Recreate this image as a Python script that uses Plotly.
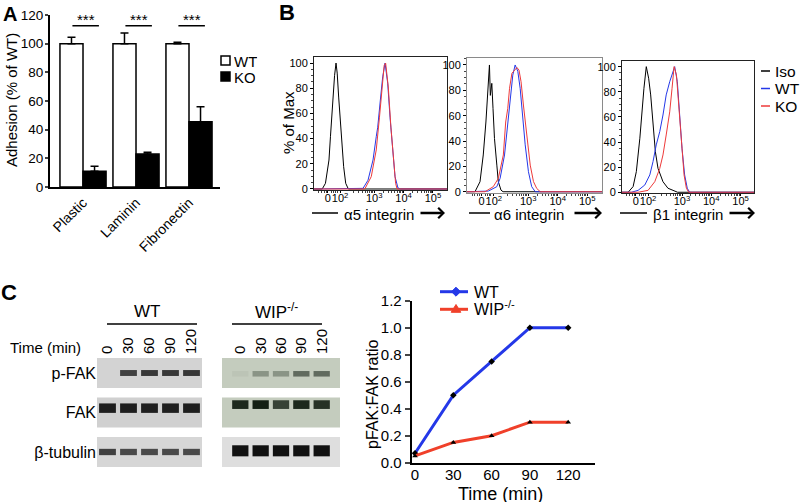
import math
import plotly.graph_objects as go

W, H = 800, 503
def xp(x): return x / W
def yp(y): return 1 - y / H

FONT = "Liberation Sans, Arial, Helvetica, sans-serif"

# ---------------- Panel A data ----------------
substrates = ["Plastic", "Laminin", "Fibronectin"]
adh_wt = [100, 100, 100]
adh_wt_err = [4.5, 7.5, 1.0]
adh_ko = [11, 23, 45.5]
adh_ko_err = [3.5, 1.2, 10.5]
sig_text = ["***", "***", "***"]
sig_level = 112.5

# ---------------- Panel B data (x in display decades, y in % of max) ----------------
hist_titles = ["α5 integrin", "α6 integrin", "β1 integrin"]
b_tickvals = [1.42, 1.84, 3, 4, 5]
b_ticktext = ["0", "10<sup>2</sup>", "10<sup>3</sup>", "10<sup>4</sup>", "10<sup>5</sup>"]

iso1_x = [0.95, 1.23, 1.34, 1.46, 1.51, 1.59, 1.65, 1.70, 1.74, 1.79, 1.88, 1.96, 2.03, 2.12, 5.48]
iso1_y = [0, 0, 4.5, 23, 41.5, 70.6, 90, 100, 92, 73, 39, 17.7, 4.5, 0, 0]
wt1_x = [0.95, 2.55, 2.62, 2.79, 2.96, 3.07, 3.12, 3.21, 3.29, 3.37, 3.46, 3.54, 3.62, 3.71, 3.81, 3.90, 5.48]
wt1_y = [0, 0, 0.5, 7, 23, 41.5, 49, 70.6, 89, 100, 84, 57, 31, 9.8, 0.8, 0, 0]
ko1_x = [0.95, 2.68, 2.90, 3.07, 3.18, 3.27, 3.34, 3.39, 3.48, 3.57, 3.66, 3.73, 3.78, 5.48]
ko1_y = [0, 0, 9.8, 31, 57, 81, 98, 100, 81, 49, 20, 4.5, 0, 0]

iso2_x = [0.93, 1.20, 1.37, 1.48, 1.57, 1.63, 1.69, 1.72, 1.77, 1.81, 1.86, 1.94, 1.99, 2.08, 2.15, 5.50]
iso2_y = [0, 0, 7.9, 29, 55, 81.6, 100, 76, 85.5, 65.8, 42, 21, 8, 1.3, 0, 0]
wt2_x = [0.93, 1.65, 1.94, 2.05, 2.20, 2.31, 2.39, 2.48, 2.56, 2.65, 2.73, 2.81, 2.90, 3.01, 3.12, 3.24, 5.50]
wt2_y = [0, 0.5, 4, 10.5, 29, 55, 76, 92, 100, 95, 81.6, 60.5, 37, 15.8, 4, 0, 0]
ko2_x = [0.93, 1.54, 1.82, 1.99, 2.16, 2.24, 2.31, 2.37, 2.45, 2.54, 2.62, 2.69, 2.76, 2.84, 2.96, 3.07, 3.18, 3.29, 3.41, 5.50]
ko2_y = [0, 0, 4, 10.5, 29, 55, 65.8, 81.6, 93.4, 96, 98, 96, 86.8, 68.4, 42, 21, 8, 2.6, 0, 0]

iso3_x = [0.95, 1.16, 1.33, 1.44, 1.56, 1.63, 1.70, 1.78, 1.86, 1.93, 2.01, 2.09, 2.18, 2.35, 2.52, 2.75, 2.85, 5.46]
iso3_y = [0, 0, 4.5, 16.4, 43, 64, 82.8, 100, 90.8, 77.5, 51, 32.3, 19, 8.4, 3.2, 1, 0, 0]
wt3_x = [0.95, 1.27, 1.50, 1.73, 1.90, 2.01, 2.12, 2.24, 2.35, 2.46, 2.58, 2.67, 2.75, 2.84, 2.92, 3.00, 3.09, 3.18, 3.26, 5.46]
wt3_y = [0, 0, 1.5, 5.8, 13.8, 24.4, 37.7, 48.3, 61.5, 77.5, 88, 94.7, 100, 88, 61.5, 35, 13.8, 3.2, 0, 0]
ko3_x = [0.95, 1.50, 1.84, 2.07, 2.24, 2.35, 2.46, 2.58, 2.66, 2.73, 2.81, 2.89, 2.98, 3.07, 3.15, 3.23, 5.46]
ko3_y = [0, 0, 1.5, 8.4, 19, 29.7, 45.6, 64, 82.8, 100, 93.4, 69.5, 37.7, 13.8, 3.2, 0, 0]

# ---------------- Panel C data ----------------
time_min = [0, 30, 60, 90, 120]
ratio_wt = [0.07, 0.50, 0.75, 1.00, 1.00]
ratio_wip = [0.05, 0.15, 0.20, 0.30, 0.30]

blot_lanes = ["0", "30", "60", "90", "120"]
blot_rows = ["p-FAK", "FAK", "β-tubulin"]
# band intensities (0 = no band, 1 = saturated)
wt_pfak = [0.0, 0.85, 0.9, 0.9, 0.9]
wt_fak = [1.0, 1.0, 1.0, 1.0, 1.0]
wt_tub = [0.85, 0.8, 0.8, 0.8, 0.8]
wip_pfak = [0.05, 0.35, 0.35, 0.6, 0.6]
wip_fak = [0.95, 1.0, 0.8, 0.95, 0.9]
wip_tub = [1.0, 1.0, 1.0, 1.0, 1.0]

BLUE = "#2438e8"
RED = "#f0402a"
KO_RED = "#ee3a3a"

fig = go.Figure()

# ---- Panel A traces ----
fig.add_trace(go.Bar(x=substrates, y=adh_wt, name="WT", showlegend=False,
                     marker=dict(color="white", line=dict(color="black", width=1.5)),
                     error_y=dict(type="data", array=adh_wt_err, arrayminus=[0] * 3, symmetric=False,
                                  color="black", thickness=1.5, width=4),
                     xaxis="x", yaxis="y"))
fig.add_trace(go.Bar(x=substrates, y=adh_ko, name="KO", showlegend=False,
                     marker=dict(color="black", line=dict(color="black", width=1.5)),
                     error_y=dict(type="data", array=adh_ko_err, arrayminus=[0] * 3, symmetric=False,
                                  color="black", thickness=1.5, width=4),
                     xaxis="x", yaxis="y"))

# ---- Panel B traces ----
hists = [
    (iso1_x, iso1_y, wt1_x, wt1_y, ko1_x, ko1_y),
    (iso2_x, iso2_y, wt2_x, wt2_y, ko2_x, ko2_y),
    (iso3_x, iso3_y, wt3_x, wt3_y, ko3_x, ko3_y),
]
for i, (ix, iy, wx, wy, kx, ky) in enumerate(hists):
    ax = str(i + 2)
    for xs, ys, col, nm in [(ix, iy, "black", "Iso"), (wx, wy, BLUE, "WT"), (kx, ky, KO_RED, "KO")]:
        fig.add_trace(go.Scatter(x=xs, y=ys, mode="lines", name=nm, showlegend=False,
                                 line=dict(color=col, width=1), xaxis="x" + ax, yaxis="y" + ax))

# ---- Panel C line chart ----
fig.add_trace(go.Scatter(x=time_min, y=ratio_wt, mode="lines+markers", name="WT", showlegend=False,
                         line=dict(color=BLUE, width=3),
                         marker=dict(symbol="diamond", size=5, color="black"),
                         xaxis="x5", yaxis="y5"))
fig.add_trace(go.Scatter(x=time_min, y=ratio_wip, mode="lines+markers", name="WIP-/-", showlegend=False,
                         line=dict(color=RED, width=3),
                         marker=dict(symbol="triangle-up", size=5, color="black"),
                         xaxis="x5", yaxis="y5"))

# dummy traces to instantiate blot axes
fig.add_trace(go.Scatter(x=[None], y=[None], showlegend=False, xaxis="x6", yaxis="y6", hoverinfo="skip"))
fig.add_trace(go.Scatter(x=[None], y=[None], showlegend=False, xaxis="x7", yaxis="y6", hoverinfo="skip"))

shapes = []
annotations = []

def pline(x0, y0, x1, y1, w=1.5, color="black"):
    shapes.append(dict(type="line", xref="paper", yref="paper", x0=xp(x0), y0=yp(y0),
                       x1=xp(x1), y1=yp(y1), line=dict(color=color, width=w)))

def ppoly(pts, color):
    path = "M " + " L ".join("%.5f,%.5f" % (xp(a), yp(b)) for a, b in pts) + " Z"
    shapes.append(dict(type="path", xref="paper", yref="paper", path=path,
                       fillcolor=color, line=dict(color=color, width=1)))

def ptext(x, y, text, size, xanchor="center", yanchor="middle", bold=False, angle=0, color="black",
          height=None):
    if bold:
        text = "<b>" + text + "</b>"
    a = dict(xref="paper", yref="paper", x=xp(x), y=yp(y), text=text, showarrow=False,
             xanchor=xanchor, yanchor=yanchor, textangle=angle,
             font=dict(size=size, color=color, family=FONT))
    if height is not None:
        a["height"] = height
    annotations.append(a)

# ---- Panel A decorations ----
for i, t in enumerate(sig_text):
    shapes.append(dict(type="line", xref="x", yref="y", x0=i - 0.2, x1=i + 0.3, y0=sig_level, y1=sig_level,
                       line=dict(color="black", width=1.5)))
    annotations.append(dict(xref="x", yref="y", x=i + 0.05, y=sig_level, text=t, showarrow=False,
                            yanchor="bottom", yshift=-4, font=dict(size=15, color="black", family=FONT)))
# legend A
shapes.append(dict(type="rect", xref="paper", yref="paper", x0=xp(221), x1=xp(230), y0=yp(65), y1=yp(56),
                   line=dict(color="black", width=1.5), fillcolor="white"))
shapes.append(dict(type="rect", xref="paper", yref="paper", x0=xp(221), x1=xp(230), y0=yp(81), y1=yp(72),
                   line=dict(color="black", width=1.5), fillcolor="black"))
ptext(232, 60.5, "WT", 15, xanchor="left", height=14)
ptext(232, 76.5, "KO", 15, xanchor="left", height=14)
ptext(12, 100, "Adhesion (% of WT)", 15, angle=-90)
ptext(10, 14, "A", 20, bold=True)

# ---- Panel B decorations ----
ptext(287, 13, "B", 22, bold=True)
ptext(288, 123, "% of Max", 15, angle=-90)
b_title_geo = [(312, 338, 342, 419, 445), (469, 490, 492, 573, 602), (620, 647, 651, 728, 755)]
for (l0, l1, tx, a0, a1), t in zip(b_title_geo, hist_titles):
    pline(l0, 213, l1, 213, w=1.5)
    ptext(tx, 214.5, t, 15, xanchor="left")
    annotations.append(dict(xref="paper", yref="paper", x=xp(a1), y=yp(213), ax=-(a1 - a0), ay=0,
                            text="", showarrow=True, arrowhead=4, arrowsize=0.8, arrowwidth=2.5,
                            arrowcolor="black"))
for yy, col, t in [(71, "black", "Iso"), (88.5, BLUE, "WT"), (106, KO_RED, "KO")]:
    pline(761, yy, 770, yy, w=1.5, color=col)
    ptext(773, yy, t, 15.5, xanchor="left")

# ---- Panel C decorations ----
ptext(9, 292, "C", 22, bold=True)
ptext(147, 311, "WT", 17)
ptext(276, 311, "WIP<sup>-/-</sup>", 17)
pline(107, 324, 197, 324, w=1.5)
pline(232, 324, 322, 324, w=1.5)
ptext(45, 347, "Time (min)", 15)
ptext(372, 395, "pFAK:FAK ratio", 16, angle=-90)
ptext(500, 493, "Time (min)", 18, height=17)
# legend C
pline(440, 291.7, 468, 291.7, w=3, color=BLUE)
ppoly([(456, 287.2), (460.5, 291.7), (456, 296.2), (451.5, 291.7)], BLUE)
ptext(472, 292, "WT", 16, xanchor="left")
pline(440, 309.3, 468, 309.3, w=3, color=RED)
ppoly([(456, 304.5), (460.8, 312.3), (451.2, 312.3)], RED)
ptext(472, 308, "WIP<sup>-/-</sup>", 16, xanchor="left")

def hex2rgb(h):
    h = h.lstrip("#")
    return tuple(int(h[i:i + 2], 16) for i in (0, 2, 4))

def mix(bg, fg, t):
    b, f = hex2rgb(bg), hex2rgb(fg)
    return "rgb(%d,%d,%d)" % tuple(round(b[k] * (1 - t) + f[k] * t) for k in range(3))

ROW_HALF = 0.38
blots = [
    ("x6", (-0.5, 4.5), [
        (0, wt_pfak, "#d3d3d3", "#262626", 0.0, 0.075),
        (1, wt_fak, "#d0d0d0", "#1e1e1e", -0.11, 0.12),
        (2, wt_tub, "#d6d6d6", "#262626", 0.0, 0.08),
    ]),
    ("x7", (-0.9, 4.9), [
        (0, wip_pfak, "#c4ccbe", "#1f2b1f", 0.02, 0.07),
        (1, wip_fak, "#c4ccbe", "#142014", -0.2, 0.11),
        (2, wip_tub, "#dedede", "#111111", -0.03, 0.14),
    ]),
]
for xref, (xa, xb), rows in blots:
    for row, vals, bg, fg, off, half in rows:
        shapes.append(dict(type="rect", xref=xref, yref="y6", x0=xa, x1=xb,
                           y0=row - ROW_HALF, y1=row + ROW_HALF, line=dict(width=0), fillcolor=bg, layer="below"))
        for lane, v in enumerate(vals):
            if v <= 0:
                continue
            shapes.append(dict(type="rect", xref=xref, yref="y6", x0=lane - 0.4, x1=lane + 0.4,
                               y0=row + off - half, y1=row + off + half, line=dict(width=0),
                               fillcolor=mix(bg, fg, v), layer="below"))

fig.update_layout(shapes=shapes, annotations=annotations)

def noaxis(**kw):
    d = dict(showgrid=False, zeroline=False, showline=False, ticks="", showticklabels=False)
    d.update(kw)
    return d

# minor tick positions for the B axes (axis decoration only)
b_minor = [n + math.log10(k) for n in (2, 3, 4) for k in range(2, 10) if n + math.log10(k) > 2.2]
b_minor += [1.1, 1.2, 1.3, 1.36, 1.55, 1.62, 1.68, 1.74]

def b_x(dom, rng, anchor, lc):
    return dict(domain=dom, range=rng, anchor=anchor, showgrid=False, zeroline=False,
                showline=True, linecolor=lc, linewidth=1, mirror=True,
                tickmode="array", tickvals=b_tickvals, ticktext=b_ticktext, tickangle=0,
                ticks="outside", ticklen=2, tickcolor="black", tickwidth=1, ticklabelstandoff=-4,
                tickfont=dict(size=11, color="black"),
                minor=dict(tickvals=b_minor, ticks="outside", ticklen=2, tickcolor="#444"))

def b_y(dom, rng, anchor, lc):
    return dict(domain=dom, range=rng, anchor=anchor, showgrid=False, zeroline=False,
                showline=True, linecolor=lc, linewidth=1, mirror=True,
                tickmode="array", tickvals=[0, 20, 40, 60, 80, 100],
                ticks="outside", ticklen=3, tickcolor="black", tickwidth=1,
                tickfont=dict(size=11, color="black"),
                minor=dict(dtick=5, ticks="outside", ticklen=2, tickcolor="#444"))

fig.update_layout(
    width=W, height=H, autosize=False,
    margin=dict(l=0, r=0, t=0, b=0),
    template="none",
    paper_bgcolor="white", plot_bgcolor="rgba(0,0,0,0)",
    font=dict(family=FONT, color="black"),
    barmode="group", bargap=0.13, bargroupgap=0.0,
    showlegend=False,
    # Panel A
    xaxis=dict(domain=[xp(50), xp(220)], range=[-0.623, 2.585], anchor="y", type="category",
               showgrid=False, zeroline=False, showline=True, linewidth=2, linecolor="black",
               ticks="", tickangle=-45, tickfont=dict(size=14, color="black")),
    yaxis=dict(domain=[yp(187), yp(15)], range=[0, 120], anchor="x", showgrid=False, zeroline=False,
               showline=True, linewidth=2, linecolor="black", ticks="outside", ticklen=3, tickwidth=2,
               ticklabelstandoff=-1,
               tickvals=[0, 20, 40, 60, 80, 100, 120], tickfont=dict(size=13.5, color="black")),
    # Panel B
    xaxis2=b_x([xp(314), xp(447)], [0.95, 5.48], "y2", "#222"),
    yaxis2=b_y([yp(190), yp(57)], [-0.8, 104.8], "x2", "#222"),
    xaxis3=b_x([xp(467), xp(602)], [0.93, 5.5], "y3", "#8a8a8a"),
    yaxis3=b_y([yp(193), yp(58)], [-1.0, 105.5], "x3", "#8a8a8a"),
    xaxis4=b_x([xp(622), xp(754)], [0.95, 5.46], "y4", "#222"),
    yaxis4=b_y([yp(193), yp(61)], [-0.6, 104.5], "x4", "#222"),
    # Panel C line chart
    xaxis5=dict(domain=[xp(411.7), xp(595)], range=[-2.6, 141], anchor="y5", showgrid=False, zeroline=False,
                showline=True, linewidth=2, linecolor="black", ticks="", ticklabelstandoff=-3,
                tickvals=time_min, tickfont=dict(size=15, color="black")),
    yaxis5=dict(domain=[yp(462.7), yp(300.7)], range=[0, 1.2], anchor="x5", showgrid=False, zeroline=False,
                showline=True, linewidth=2, linecolor="black", ticks="outside", ticklen=5, tickwidth=2,
                tickvals=[0, 0.2, 0.4, 0.6, 0.8, 1.0, 1.2], tickformat=".1f",
                tickfont=dict(size=15, color="black")),
    # blots
    xaxis6=noaxis(domain=[xp(97), xp(202)], range=[-0.5, 4.5], anchor="y6", side="top",
                  showticklabels=True, tickvals=[0, 1, 2, 3, 4], ticktext=blot_lanes, tickangle=-90,
                  tickfont=dict(size=15, color="black")),
    xaxis7=noaxis(domain=[xp(222), xp(340)], range=[-0.9, 4.9], anchor="y6", side="top",
                  showticklabels=True, tickvals=[0, 1, 2, 3, 4], ticktext=blot_lanes, tickangle=-90,
                  tickfont=dict(size=15, color="black")),
    yaxis6=noaxis(domain=[yp(470), yp(355)], range=[2.456, -0.456], anchor="x6",
                  showticklabels=True, tickvals=[0, 1, 2], ticktext=blot_rows,
                  tickfont=dict(size=16, color="black")),
)

fig.write_html("out.html", config={"displayModeBar": False},
               post_script="document.body.style.margin='0';document.body.style.padding='0';")
